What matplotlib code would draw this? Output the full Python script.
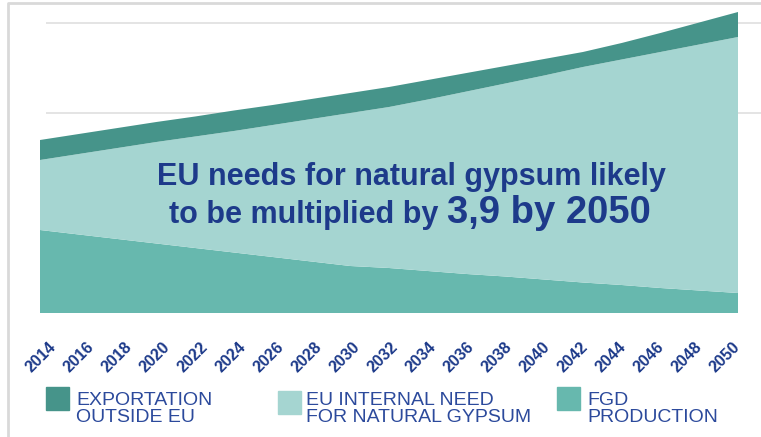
import matplotlib.pyplot as plt
import numpy as np
from matplotlib.patches import Rectangle
from matplotlib.lines import Line2D

plt.rcParams['font.family'] = ['Liberation Sans', 'DejaVu Sans']

years = np.arange(2014, 2051, 2)
# stacked heights (arbitrary units)
fgd = [8.3, 7.85, 7.4, 6.95, 6.5, 6.05, 5.6, 5.15, 4.7, 4.5,
       4.2, 3.9, 3.65, 3.35, 3.05, 2.8, 2.5, 2.25, 2.0]
need_top = [15.3, 15.9, 16.5, 17.1, 17.65, 18.2, 18.8, 19.4, 20.0, 20.6,
            21.35, 22.15, 22.95, 23.75, 24.6, 25.35, 26.1, 26.85, 27.6]
total = [17.3, 17.9, 18.5, 19.1, 19.65, 20.25, 20.8, 21.4, 22.0, 22.6,
         23.3, 24.0, 24.7, 25.4, 26.1, 27.0, 28.0, 29.05, 30.1]
internal = np.array(need_top) - np.array(fgd)
export = np.array(total) - np.array(need_top)

labels = ['EXPORTATION\nOUTSIDE EU', 'EU INTERNAL NEED\nFOR NATURAL GYPSUM',
          'FGD\nPRODUCTION']
c_export = '#46948a'
c_internal = '#a5d5d1'
c_fgd = '#67b8ae'
navy = '#1d3a8a'
legend_blue = '#2c4a9c'

W, H = 761, 437
fig = plt.figure(figsize=(W / 100, H / 100), dpi=100)


def fx(px):
    return px / W


def fy(py):
    return 1 - py / H


ax = fig.add_axes([fx(40), fy(313), fx(738) - fx(40), fy(10) - fy(313)])
ax.set_xlim(2014, 2050)
ax.set_ylim(0, 30.3)

# gridlines, running past the plot on the right
ax.hlines([20.0, 29.0], 2014.3, 2051.2, color='#e2e2e2', lw=1.3,
          clip_on=False, zorder=0)

ax.stackplot(years, fgd, internal, export,
             colors=[c_fgd, c_internal, c_export], lw=0, zorder=2)

for s in ax.spines.values():
    s.set_visible(False)
ax.set_yticks([])
tick_pos = np.linspace(2014.05, 2049.3, len(years))
ax.set_xticks(tick_pos)
ax.set_xticklabels([str(y) for y in years], rotation=45, ha='center',
                   fontsize=11.5, fontweight='bold', color=navy)
ax.tick_params(axis='x', length=0, pad=19)

# headline text
fig.text(fx(411), fy(185), 'EU needs for natural gypsum likely', ha='center',
         va='baseline', fontsize=22, fontweight='bold', color=navy)
fig.text(fx(438), fy(223), 'to be multiplied by', ha='right', va='baseline',
         fontsize=22, fontweight='bold', color=navy)
fig.text(fx(447), fy(223), '3,9 by 2050', ha='left', va='baseline',
         fontsize=27.5, fontweight='bold', color=navy)

# legend
leg = [(46, 387, c_export, 76), (278, 391, c_internal, 306),
       (557, 387, c_fgd, 587)]
for (x0, y0, col, tx), lab in zip(leg, labels):
    fig.patches.append(Rectangle((fx(x0), fy(y0 + 23)), fx(23), 23 / H,
                                 transform=fig.transFigure, color=col))
    fig.text(fx(tx), fy(392), lab, ha='left', va='top', fontsize=14,
             color=legend_blue, linespacing=0.98)

# frame around the picture
fig.lines.append(Line2D([fx(8), fx(8), 1], [0, fy(3), fy(3)],
                        transform=fig.transFigure, color='#d9d9d9', lw=2))

fig.savefig('out.png', dpi=100)
